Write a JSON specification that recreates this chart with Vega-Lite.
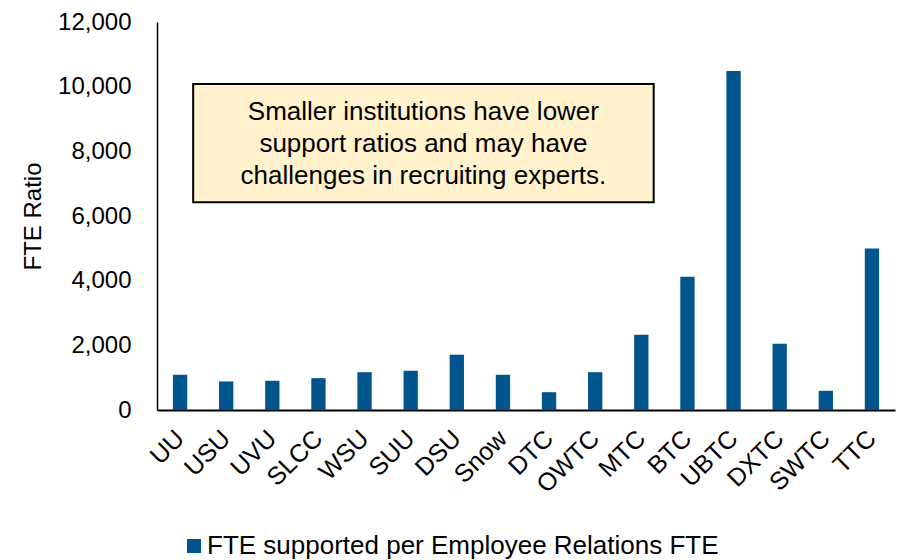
{
  "$schema": "https://vega.github.io/schema/vega-lite/v6.json",
  "width": 738,
  "height": 388,
  "autosize": {"type": "none"},
  "padding": {"left": 157, "top": 22, "right": 5, "bottom": 150},
  "background": "white",
  "config": {
    "view": {"stroke": null},
    "font": "Liberation Sans",
    "axis": {"grid": false, "ticks": false, "tickSize": 0, "domainColor": "black", "labelColor": "black", "titleColor": "black", "labelFont": "Liberation Sans", "titleFont": "Liberation Sans"}
  },
  "datasets": {
    "bars": [
      {"inst": "UU", "value": 1090, "series": "FTE supported per Employee Relations FTE"},
      {"inst": "USU", "value": 883, "series": "FTE supported per Employee Relations FTE"},
      {"inst": "UVU", "value": 904, "series": "FTE supported per Employee Relations FTE"},
      {"inst": "SLCC", "value": 985, "series": "FTE supported per Employee Relations FTE"},
      {"inst": "WSU", "value": 1170, "series": "FTE supported per Employee Relations FTE"},
      {"inst": "SUU", "value": 1214, "series": "FTE supported per Employee Relations FTE"},
      {"inst": "DSU", "value": 1710, "series": "FTE supported per Employee Relations FTE"},
      {"inst": "Snow", "value": 1090, "series": "FTE supported per Employee Relations FTE"},
      {"inst": "DTC", "value": 551, "series": "FTE supported per Employee Relations FTE"},
      {"inst": "OWTC", "value": 1170, "series": "FTE supported per Employee Relations FTE"},
      {"inst": "MTC", "value": 2329, "series": "FTE supported per Employee Relations FTE"},
      {"inst": "BTC", "value": 4125, "series": "FTE supported per Employee Relations FTE"},
      {"inst": "UBTC", "value": 10483, "series": "FTE supported per Employee Relations FTE"},
      {"inst": "DXTC", "value": 2050, "series": "FTE supported per Employee Relations FTE"},
      {"inst": "SWTC", "value": 595, "series": "FTE supported per Employee Relations FTE"},
      {"inst": "TTC", "value": 4992, "series": "FTE supported per Employee Relations FTE"}
    ],
    "note": [
      {"x1": 0.049, "x2": 0.673, "y1": 6426, "y2": 10080, "xc": 0.361, "yc": 9213, "label": "Smaller institutions have lower\nsupport ratios and may have\nchallenges in recruiting experts."}
    ]
  },
  "layer": [
    {
      "data": {"name": "bars"},
      "mark": {"type": "bar"},
      "encoding": {
        "x": {
          "field": "inst", "type": "nominal", "sort": null,
          "scale": {"paddingInner": 0.69, "paddingOuter": 0.345},
          "axis": {"title": null, "labelAngle": -45, "labelAlign": "right", "labelBaseline": "middle", "labelFontSize": 25, "labelPadding": 24, "labelOffset": 0, "domainWidth": 2}
        },
        "y": {
          "field": "value", "type": "quantitative", "title": "FTE Ratio",
          "scale": {"domain": [0, 12000]},
          "axis": {"values": [0, 2000, 4000, 6000, 8000, 10000, 12000], "format": ",d", "labelFontSize": 24, "labelPadding": 26, "titleFontSize": 24, "titleFontWeight": "normal", "titlePadding": 12, "domainWidth": 1.5}
        },
        "color": {
          "field": "series", "type": "nominal",
          "scale": {"range": ["#00558C"]},
          "legend": {"title": null, "orient": "none", "legendX": 24, "legendY": 511, "symbolType": "square", "symbolSize": 196, "symbolStrokeWidth": 0, "symbolOpacity": 1, "labelFontSize": 26, "labelColor": "black", "labelOffset": 0, "labelLimit": 0}
        }
      }
    },
    {
      "data": {"name": "note"},
      "mark": {"type": "rect", "fill": "#FFF2CC", "stroke": "black", "strokeWidth": 2},
      "encoding": {
        "x": {"field": "x1", "type": "quantitative", "scale": {"domain": [0, 1]}, "axis": null},
        "x2": {"field": "x2"},
        "y": {"field": "y1", "type": "quantitative", "title": "FTE Ratio", "scale": {"domain": [0, 12000]},
          "axis": {"values": [0, 2000, 4000, 6000, 8000, 10000, 12000], "format": ",d", "labelFontSize": 24, "labelPadding": 26, "titleFontSize": 24, "titleFontWeight": "normal", "titlePadding": 12, "domainWidth": 1.5}},
        "y2": {"field": "y2"}
      }
    },
    {
      "data": {"name": "note"},
      "mark": {"type": "text", "fontSize": 26, "lineBreak": "\n", "lineHeight": 32, "align": "center", "baseline": "middle", "color": "black", "font": "Liberation Sans"},
      "encoding": {
        "x": {"field": "xc", "type": "quantitative", "scale": {"domain": [0, 1]}, "axis": null},
        "y": {"field": "yc", "type": "quantitative", "title": "FTE Ratio", "scale": {"domain": [0, 12000]},
          "axis": {"values": [0, 2000, 4000, 6000, 8000, 10000, 12000], "format": ",d", "labelFontSize": 24, "labelPadding": 26, "titleFontSize": 24, "titleFontWeight": "normal", "titlePadding": 12, "domainWidth": 1.5}},
        "text": {"field": "label"}
      }
    }
  ],
  "resolve": {"scale": {"x": "independent"}}
}
